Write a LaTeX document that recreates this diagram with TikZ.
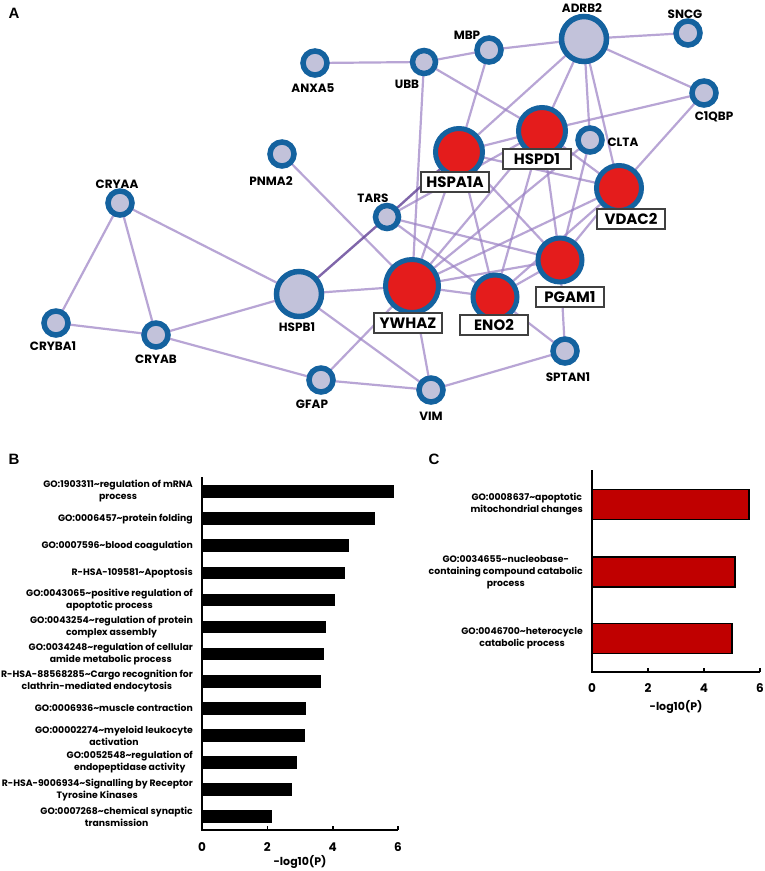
\documentclass[tikz,border=0pt]{standalone}
\usepackage{fontspec}
\setmainfont{Poppins}
\newfontfamily\panelfont{Liberation Sans}
\pgfdeclarelayer{bg}
\pgfsetlayers{bg,main}
\definecolor{ringblue}{HTML}{14629F}
\definecolor{lav}{HTML}{C2C2DA}
\definecolor{nred}{HTML}{E41C1C}
\definecolor{edgec}{HTML}{9A80C4}
\definecolor{edged}{HTML}{6A4C9C}
\definecolor{barred}{HTML}{C00000}
\tikzset{
  gnode/.style={circle, draw=ringblue, fill=lav, line width=5.5pt, minimum size=#1, inner sep=0pt},
  rnode/.style={circle, draw=ringblue, fill=nred, line width=5pt, minimum size=#1, inner sep=0pt},
  glab/.style={font=\bfseries\fontsize{12}{12}\selectfont, inner sep=0pt},
  boxlab/.style={draw=black!75, fill=white, line width=1.1pt, minimum width=68pt, minimum height=20pt, inner sep=0pt, font=\bfseries\fontsize{15}{15}\selectfont},
  edge/.style={draw=edgec, line width=2.2pt, opacity=0.7},
  dedge/.style={draw=edged, line width=2.4pt, opacity=0.85},
  barlab/.style={font=\bfseries\fontsize{9.3}{12}\selectfont, align=center, anchor=east, inner sep=0pt},
  ticklab/.style={font=\bfseries\fontsize{12}{12}\selectfont, inner sep=0pt},
  axlab/.style={font=\bfseries\fontsize{11}{11}\selectfont, inner sep=0pt},
  panel/.style={font=\panelfont\bfseries\fontsize{15}{15}\selectfont, inner sep=0pt},
  axline/.style={line width=1.6pt, black},
}
\begin{document}
\begin{tikzpicture}[x=1pt,y=-1pt]
\useasboundingbox (0,0) rectangle (765,871);
\begin{pgfonlayer}{bg}
\fill[white] (0,0) rectangle (765,871);
\end{pgfonlayer}

% panel letters
\node[panel] (pA) at (14,13) {A};
\node[panel] (pB) at (14,459) {B};
\node[panel] (pC) at (434,459) {C};

% network nodes
\node[gnode=24pt] (ANXA5) at (315,63) {};
\node[gnode=23pt] (UBB) at (424,62) {};
\node[gnode=24pt] (MBP) at (489,50) {};
\node[gnode=45pt] (ADRB2) at (584,39) {};
\node[gnode=24pt] (SNCG) at (688,33) {};
\node[gnode=24pt] (C1QBP) at (704,93) {};
\node[rnode=47pt] (HSPD1) at (542,131) {};
\node[gnode=24pt] (CLTA) at (590,140) {};
\node[rnode=47pt] (HSPA1A) at (459,152) {};
\node[gnode=24pt] (PNMA2) at (282,154) {};
\node[gnode=24pt] (CRYAA) at (120,203) {};
\node[gnode=23pt] (TARS) at (387,217) {};
\node[rnode=45pt] (VDAC2) at (619,188) {};
\node[rnode=44pt] (PGAM1) at (560,260) {};
\node[gnode=45pt] (HSPB1) at (299,294) {};
\node[rnode=53pt] (YWHAZ) at (412,286) {};
\node[rnode=44pt] (ENO2) at (495,297) {};
\node[gnode=24pt] (CRYBA1) at (56,323) {};
\node[gnode=24pt] (CRYAB) at (156,335) {};
\node[gnode=24pt] (SPTAN1) at (565,351) {};
\node[gnode=24pt] (GFAP) at (321,380) {};
\node[gnode=24pt] (VIM) at (431,390) {};

% edges
\begin{pgfonlayer}{bg}
\foreach \a/\b in {ANXA5/UBB, UBB/MBP, MBP/ADRB2, ADRB2/SNCG, ADRB2/C1QBP, UBB/YWHAZ, UBB/HSPD1,
  MBP/HSPA1A, ADRB2/HSPA1A, ADRB2/HSPD1, ADRB2/CLTA, ADRB2/VDAC2, C1QBP/HSPD1, C1QBP/VDAC2,
  PNMA2/YWHAZ, CRYAA/HSPB1, CRYAA/CRYBA1, CRYAA/CRYAB, CRYBA1/CRYAB, CRYAB/HSPB1, CRYAB/GFAP,
  GFAP/VIM, HSPB1/YWHAZ, HSPB1/VIM, GFAP/YWHAZ, YWHAZ/VIM, VIM/SPTAN1, ENO2/SPTAN1, PGAM1/SPTAN1,
  HSPA1A/HSPD1, HSPA1A/VDAC2, HSPA1A/YWHAZ, HSPA1A/ENO2, HSPA1A/PGAM1, HSPD1/VDAC2, HSPD1/PGAM1,
  HSPD1/YWHAZ, HSPD1/ENO2, HSPD1/TARS, CLTA/YWHAZ, CLTA/PGAM1, VDAC2/PGAM1, VDAC2/YWHAZ,
  VDAC2/ENO2, YWHAZ/ENO2, YWHAZ/PGAM1, ENO2/PGAM1, TARS/PGAM1, TARS/ENO2}
  \draw[edge] (\a.center) -- (\b.center);
\draw[dedge] (HSPB1.center) -- (TARS.center);
\draw[dedge] (TARS.center) -- (HSPA1A.center);
\end{pgfonlayer}

% plain labels
\node[glab] (lANXA5) at (313,88) {ANXA5};
\node[glab] (lUBB) at (407,84) {UBB};
\node[glab] (lMBP) at (467,35) {MBP};
\node[glab] (lADRB2) at (582,8) {ADRB2};
\node[glab] (lSNCG) at (685,14) {SNCG};
\node[glab] (lC1QBP) at (714,117) {C1QBP};
\node[glab] (lCLTA) at (623,142) {CLTA};
\node[glab] (lPNMA2) at (271,181) {PNMA2};
\node[glab] (lCRYAA) at (117,184) {CRYAA};
\node[glab] (lTARS) at (373,198) {TARS};
\node[glab] (lHSPB1) at (297,327) {HSPB1};
\node[glab] (lCRYBA1) at (53,346) {CRYBA1};
\node[glab] (lCRYAB) at (156,359) {CRYAB};
\node[glab] (lGFAP) at (312,404) {GFAP};
\node[glab] (lVIM) at (431,416) {VIM};
\node[glab] (lSPTAN1) at (568,377) {SPTAN1};

% boxed labels
\node[boxlab] (bHSPD1) at (537,159) {HSPD1};
\node[boxlab] (bHSPA1A) at (455,182) {HSPA1A};
\node[boxlab] (bVDAC2) at (631,219) {VDAC2};
\node[boxlab] (bPGAM1) at (570,297) {PGAM1};
\node[boxlab] (bENO2) at (494,325) {ENO2};
\node[boxlab] (bYWHAZ) at (408,323) {YWHAZ};

% ---------- chart B ----------
\coordinate (B0) at (202,830);
\coordinate (Btop) at (202,477);
\coordinate (Bend) at (398,830);
\foreach \r/\y/\t in {
  394/491.5/{GO:1903311\textasciitilde regulation of mRNA\\process},
  375/518.6/{GO:0006457\textasciitilde protein folding},
  349/545.7/{GO:0007596\textasciitilde blood coagulation},
  345/572.8/{R-HSA-109581\textasciitilde Apoptosis},
  335/599.9/{GO:0043065\textasciitilde positive regulation of\\apoptotic process},
  326/627.0/{GO:0043254\textasciitilde regulation of protein\\complex assembly},
  324/654.1/{GO:0034248\textasciitilde regulation of cellular\\amide metabolic process},
  321/681.2/{R-HSA-88568285\textasciitilde Cargo recognition for\\clathrin-mediated endocytosis},
  306/708.3/{GO:0006936\textasciitilde muscle contraction},
  305/735.4/{GO:00002274\textasciitilde myeloid leukocyte\\activation},
  297/762.5/{GO:0052548\textasciitilde regulation of\\endopeptidase activity},
  292/789.6/{R-HSA-9006934\textasciitilde Signalling by Receptor\\Tyrosine Kinases},
  272/816.7/{GO:0007268\textasciitilde chemical synaptic\\transmission}}
{
  \fill[black] (202,\y-6.3) rectangle (\r,\y+6.3);
  \node[barlab] at (193,\y) {\t};
}
\draw[axline] (Btop) -- (B0) -- (Bend);
\foreach \k/\xx in {0/202,2/267.3,4/332.7,6/398}{
  \draw[axline] (\xx,830) -- (\xx,826);
  \node[ticklab] at (\xx,847) {\k};
}
\node[axlab] (Bxl) at (300,862) {-log10(P)};

% ---------- chart C ----------
\coordinate (C0) at (592,672);
\coordinate (Ctop) at (592,470);
\coordinate (Cend) at (760,672);
\foreach \r/\y/\t in {
  749/504.5/{GO:0008637\textasciitilde apoptotic\\mitochondrial changes},
  735/572.0/{GO:0034655\textasciitilde nucleobase-\\containing compound catabolic\\process},
  732/638.5/{GO:0046700\textasciitilde heterocycle\\catabolic process}}
{
  \draw[fill=barred, draw=black, line width=1.3pt] (592,\y-15) rectangle (\r,\y+15);
  \node[barlab] at (583,\y) {\t};
}
\draw[axline] (Ctop) -- (C0) -- (Cend);
\foreach \k/\xx in {0/592,2/648,4/704,6/760}{
  \draw[axline] (\xx,672) -- (\xx,668);
  \node[ticklab] at (\xx,688) {\k};
}
\node[axlab] (Cxl) at (676,707) {-log10(P)};
\end{tikzpicture}
\end{document}
